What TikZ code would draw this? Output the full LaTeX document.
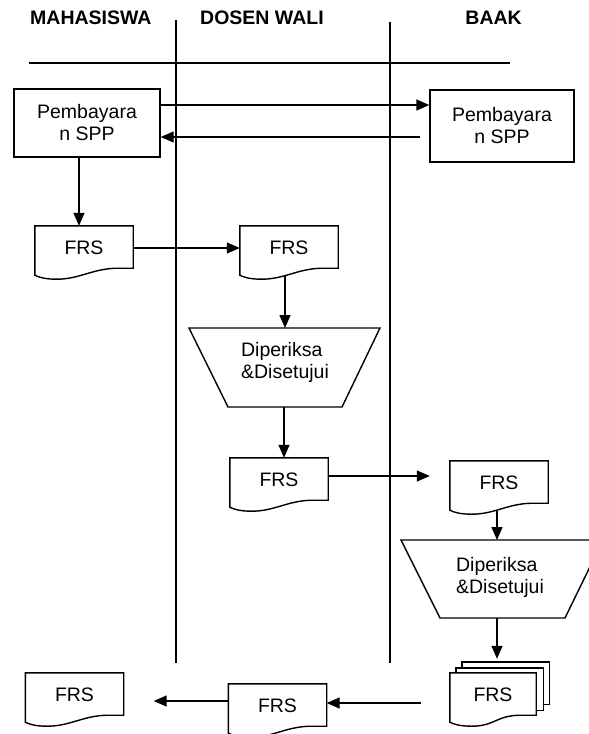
\documentclass[tikz,border=0pt]{standalone}
\usepackage{fontspec}
\setmainfont{Liberation Sans}
\usetikzlibrary{calc,arrows.meta}
\newcommand\docoutline[1]{%
  \draw[shp] ($(#1.south west)+(0,5)$) -- (#1.north west) -- (#1.north east) -- ($(#1.south east)+(0,-2)$) -- ($(#1.south east)+(-15,-2)$)
   .. controls ($(#1.south east)+(-40,-2)$) and ($(#1.south west)+(45,9)$) .. ($(#1.south west)+(22,9)$)
   .. controls ($(#1.south west)+(10,9)$) and ($(#1.south west)+(4,7)$) .. ($(#1.south west)+(0,5)$) -- cycle;}
\begin{document}
\begin{tikzpicture}[x=1pt,y=-1pt,
  every node/.style={font=\fontsize{19.5}{22}\selectfont, inner sep=0pt, align=center},
  hdr/.style={font=\fontsize{19.5}{22}\selectfont\bfseries},
  lane/.style={line width=1.4pt},
  shp/.style={line width=1.4pt},
  arr/.style={line width=1.4pt, -{Triangle[length=13pt,width=11pt]}},
  box/.style={draw, line width=1.4pt},
  doc/.style={minimum width=98pt, minimum height=44pt},
]
\useasboundingbox (0,0) rectangle (589,734);

% headers
\node[hdr, anchor=west] (h1) at (30,18) {MAHASISWA};
\node[hdr, anchor=west] (h2) at (200,18) {DOSEN WALI};
\node[hdr, anchor=east] (h3) at (522,18) {BAAK};

% lanes
\coordinate (v1t) at (176,20); \coordinate (v1b) at (176,663);
\coordinate (v2t) at (390,22); \coordinate (v2b) at (390,663);
\coordinate (hl) at (29,63); \coordinate (hr) at (510,63);
\draw[lane] (v1t) -- (v1b);
\draw[lane] (v2t) -- (v2b);
\draw[lane] (hl) -- (hr);

% payment boxes
\node[box, minimum width=146pt, minimum height=68pt] (pa) at (87,123) {Pembayara\\n SPP};
\node[box, minimum width=144pt, minimum height=72pt] (pb) at (502,126) {Pembayara\\n SPP};
\coordinate (a1) at ([yshift=18pt]pa.east);
\draw[arr] (a1) -- (a1 -| pb.west);
\coordinate (a2) at ([yshift=-14pt]pa.east);
\draw[arr, shorten <=9pt] (a2 -| pb.west) -- (a2);

% documents
\node[doc] (f1) at (84,248) {FRS};
\node[doc] (f2) at (289,248) {FRS};
\node[doc] (f3) at (279,480) {FRS};
\node[doc] (f4) at (499,483) {FRS};
\node[doc] (f5) at (277.5,706) {FRS};
\node[doc] (f6) at (74.5,695) {FRS};
\node[doc, minimum width=86pt] (s) at (493,695) {FRS};
\foreach \n in {f1,f2,f3,f4,f5,f6,s} {\docoutline{\n}}
% stacked pages behind
\draw[shp] ($(s.north west)+(6,0)$) -- ++(0,-5) -- ($(s.north east)+(7,-5)$) -- ($(s.south east)+(7,-7)$) -- ($(s.south east)+(0,-7)$);
\draw[shp] ($(s.north west)+(12,-5)$) -- ++(0,-6) -- ($(s.north east)+(13,-11)$) -- ($(s.south east)+(13,-13)$) -- ($(s.south east)+(7,-13)$);

% trapezoids
\node[align=left] (t1) at (285,362) {Diperiksa\\\&Disetujui};
\draw[shp] ($(t1)+(-96,-34)$) -- ($(t1)+(95,-34)$) -- ($(t1)+(57,45)$) -- ($(t1)+(-57,45)$) -- cycle;
\node[align=left] (t2) at (500,577) {Diperiksa\\\&Disetujui};
\draw[shp] ($(t2)+(-99,-37)$) -- ($(t2)+(103,-37)$) -- ($(t2)+(65,41)$) -- ($(t2)+(-60,41)$) -- cycle;
\coordinate (t1top) at ($(t1)+(0,-34)$);
\coordinate (t1bot) at ($(t1)+(-1,45)$);
\coordinate (t2top) at ($(t2)+(-3,-37)$);
\coordinate (t2bot) at ($(t2)+(-3,41)$);

% flow arrows
\coordinate (a3) at ([xshift=-8pt]pa.south);
\draw[arr] (a3) -- (a3 |- f1.north);
\draw[arr] (f1.east) -- (f2.west);
\coordinate (f2b) at ($(f2.south)+(-4,5)$);
\draw[arr] (f2b) -- (t1top);
\draw[arr] (t1bot) -- (t1bot |- f3.north);
\coordinate (a4) at ([yshift=4pt]f3.east);
\draw[arr, shorten >=20pt] (a4) -- (a4 -| f4.west);
\coordinate (f4b) at ($(f4.south)+(-2,6)$);
\draw[arr] (f4b) -- (t2top);
\draw[arr, shorten >=14pt] (t2bot) -- (t2bot |- s.north);
\coordinate (a5) at ([yshift=-8pt]s.west);
\draw[arr, shorten <=29pt] (a5) -- (a5 -| f5.east);
\coordinate (a6) at ([yshift=5pt]f5.west);
\draw[arr, shorten >=30pt] (a6) -- (a6 -| f6.east);
\end{tikzpicture}
\end{document}
